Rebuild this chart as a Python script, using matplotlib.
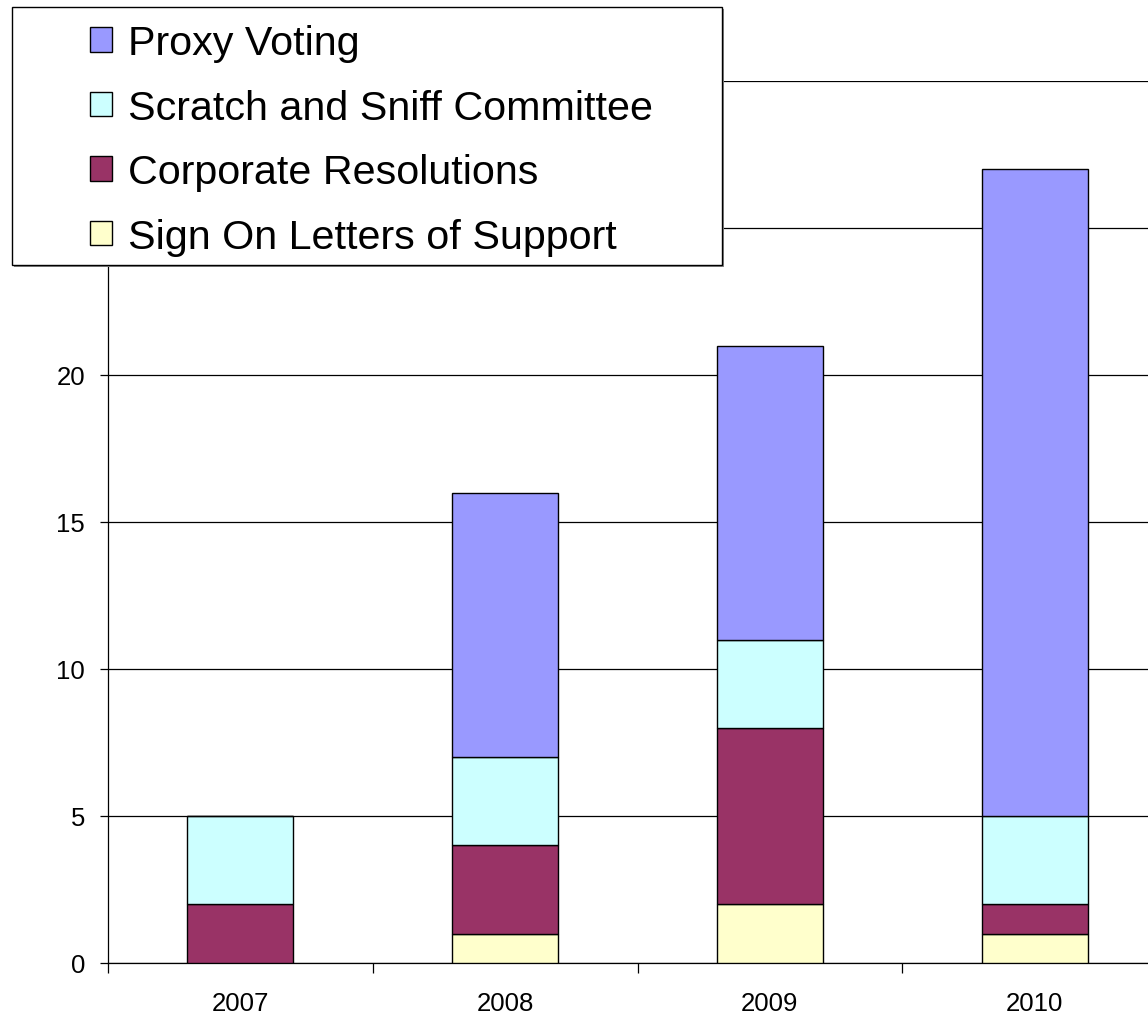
import numpy as np
import matplotlib
matplotlib.use('Agg')
import matplotlib.pyplot as plt
from matplotlib.patches import Patch, Rectangle

plt.rcParams['font.family'] = ['Liberation Sans', 'DejaVu Sans']

years = ["2007", "2008", "2009", "2010"]
sign_on = [0, 1, 2, 1]
corporate = [2, 3, 6, 1]
scratch = [3, 3, 3, 3]
proxy = [0, 9, 10, 22]

series = [
    ("Sign On Letters of Support", sign_on, "#FFFFCC"),
    ("Corporate Resolutions", corporate, "#993366"),
    ("Scratch and Sniff Committee", scratch, "#CCFFFF"),
    ("Proxy Voting", proxy, "#9999FF"),
]

W, H = 1148, 1020
fig = plt.figure(figsize=(W / 100, H / 100), dpi=100)
ax = fig.add_axes([108 / W, 1 - 964 / H, 1059 / W, (964 - 82) / H])

x = np.arange(len(years))
bottom = np.zeros(len(years))
for name, vals, color in series:
    vals = np.array(vals, dtype=float)
    ax.bar(x, vals, 0.4, bottom=bottom, color=color, edgecolor="black",
           linewidth=1.0, zorder=3)
    bottom += vals

ax.set_xlim(-0.5, 3.5)
ax.set_ylim(0, 30)
ax.set_yticks(range(0, 31, 5))
ax.yaxis.grid(True, color="black", linewidth=0.9, zorder=0)
ax.set_axisbelow(True)

ax.set_xticks(x)
ax.set_xticklabels(years)
ax.set_xticks(np.arange(-0.5, 4.0, 1.0), minor=True)
ax.tick_params(axis="x", which="major", length=0, pad=20, labelsize=18.5)
ax.tick_params(axis="x", which="minor", length=7, width=0.9, direction="out")
ax.tick_params(axis="y", length=5.8, width=0.9, pad=10.8, labelsize=18.5)

for s in ("top", "right"):
    ax.spines[s].set_visible(False)
for s in ("left", "bottom"):
    ax.spines[s].set_linewidth(0.9)

# legend box (drawn on the figure, above the plot)
shadow = Rectangle((14 / W, 1 - 268 / H), 710 / W, 258 / H, transform=fig.transFigure,
                   facecolor="#888888", edgecolor="none", zorder=5)
frame = Rectangle((12 / W, 1 - 266 / H), 710 / W, 258 / H, transform=fig.transFigure,
                  facecolor="white", edgecolor="black", linewidth=1.0, zorder=6)
fig.patches.extend([shadow, frame])

handles = [Patch(facecolor=c, edgecolor="black", linewidth=1.0, label=n)
           for n, _, c in series[::-1]]
leg = fig.legend(handles=handles, loc="upper left",
                 bbox_to_anchor=(90 / W, 1 - 25 / H), bbox_transform=fig.transFigure,
                 frameon=False, fontsize=29.7, borderpad=0, borderaxespad=0,
                 handlelength=0.53, handleheight=0.53, handletextpad=0.39,
                 labelspacing=0.645)
leg.set_zorder(7)

fig.savefig("out.png", dpi=100)
